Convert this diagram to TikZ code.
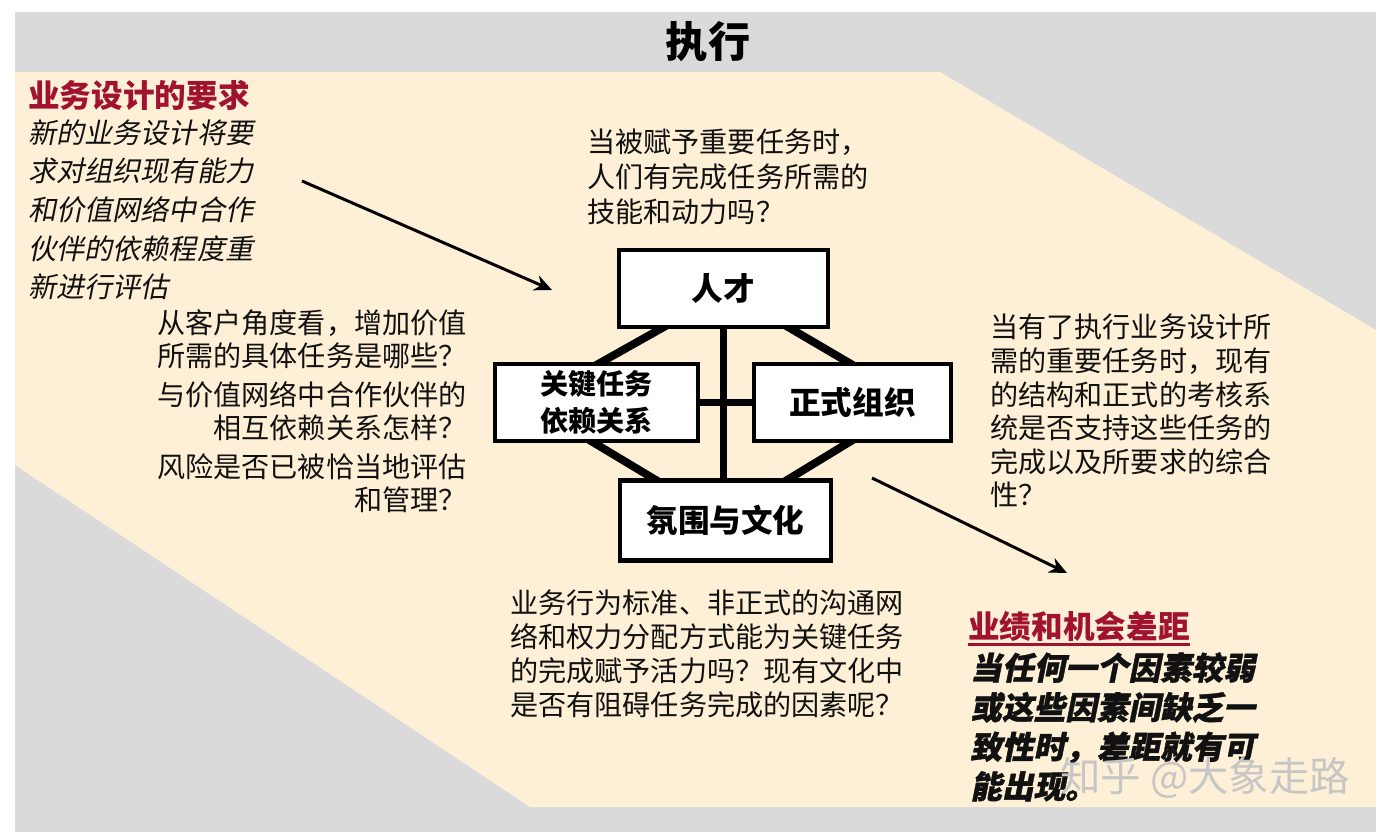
\documentclass[tikz,border=0pt]{standalone}
\usepackage{fontspec}
\setmainfont{Noto Sans CJK SC}
\newfontfamily\slantcjk{Noto Sans CJK SC}[FakeSlant=0.2, BoldFeatures={FakeBold=1.2}]
\usetikzlibrary{arrows.meta,backgrounds,calc}
\definecolor{execGray}{HTML}{DADADA}
\definecolor{execCream}{HTML}{FDF0D6}
\definecolor{execRed}{HTML}{A0122E}
\definecolor{execInk}{HTML}{111111}

\begin{document}
\begin{tikzpicture}[
  x=0.02cm,
  y=-0.02cm,
  >=Stealth,
  factor/.style={
    draw=black,
    line width=2.3pt,
    fill=white,
    inner sep=0pt,
    align=center,
    minimum height=1.55cm,
    font=\fontsize{18}{20}\selectfont\bfseries
  },
  link/.style={draw=black, line width=4.5pt},
  question/.style={
    inner sep=0pt,
    text=execInk,
    font=\fontsize{16}{19.4}\selectfont
  },
  redtitle/.style={
    inner sep=0pt,
    text=execRed,
    font=\fontsize{18}{20}\selectfont\bfseries
  },
  pointer/.style={-{Stealth[length=10pt,width=9pt]}, draw=black, line width=1.7pt}
]

\path[use as bounding box] (0,0) rectangle (1390,838);

\node[font=\fontsize{24}{24}\selectfont\bfseries] (title) at (708,42) {执行};

\node[factor, minimum width=4.18cm] (talent) at (723.5,288.5) {人才};
\node[factor, minimum width=4.06cm, font=\fontsize{16}{21}\selectfont\bfseries] (task) at (596.5,402.5)
  {关键任务\\依赖关系};
\node[factor, minimum width=3.94cm] (formal) at (852.5,402.5) {正式组织};
\node[factor, minimum width=4.22cm, minimum height=1.6cm] (culture) at (725.5,520.5) {氛围与文化};

\node[redtitle, anchor=west] (reqTitle) at (28,95) {业务设计的要求};
\node[question, anchor=north west, align=left, font=\slantcjk\fontsize{16}{22}\selectfont] (reqText) at (28,119)
  {新的业务设计将要\\求对组织现有能力\\和价值网络中合作\\伙伴的依赖程度重\\新进行评估};

\node[question, anchor=north west, align=left, font=\fontsize{16}{19.8}\selectfont] (talentQ) at (587,129)
  {当被赋予重要任务时，\\人们有完成任务所需的\\技能和动力吗？};
\node[question, anchor=north east, align=right, font=\fontsize{16}{18.8}\selectfont] (taskQ) at (467,309)
  {从客户角度看，增加价值\\所需的具体任务是哪些？\\[3.5pt]与价值网络中合作伙伴的\\相互依赖关系怎样？\\[3.5pt]风险是否已被恰当地评估\\和管理？};
\node[question, anchor=north west, align=left, font=\fontsize{16}{19.1}\selectfont] (formalQ) at (990,314)
  {当有了执行业务设计所\\需的重要任务时，现有\\的结构和正式的考核系\\统是否支持这些任务的\\完成以及所要求的综合\\性？};
\node[question, anchor=north west, align=left, font=\fontsize{16}{19.5}\selectfont] (cultureQ) at (510,589)
  {业务行为标准、非正式的沟通网\\络和权力分配方式能为关键任务\\的完成赋予活力吗？现有文化中\\是否有阻碍任务完成的因素呢？};

\node[redtitle, anchor=west] (gapTitle) at (968,626) {业绩和机会差距};
\draw[execRed, line width=1.8pt] ([yshift=-1.5pt]gapTitle.south west) -- ([yshift=-1.5pt]gapTitle.south east);
\node[question, anchor=north west, align=left, font=\slantcjk\bfseries\fontsize{18}{22.5}\selectfont] (gapText) at (970,652)
  {当任何一个因素较弱\\或这些因素间缺乏一\\致性时，差距就有可\\能出现。};

\node[anchor=west, inner sep=0pt, font=\fontsize{23}{23}\selectfont, text=gray!45] (wm) at (1060,778) {知乎 @大象走路};

\coordinate (reqTail) at (302,181);
\coordinate (reqHead) at (552,290);
\coordinate (gapTail) at (872,478);
\coordinate (gapHead) at (1067,573);
\draw[pointer] (reqTail) -- (reqHead);
\draw[pointer] (gapTail) -- (gapHead);

\begin{scope}[on background layer]
  \fill[execGray] (15,12) rectangle (1376,832);
  \fill[execCream] (15,72) -- (940,72) -- (1376,330) -- (1376,807) -- (530,807) -- (15,465) -- cycle;
  \draw[link] ([yshift=3pt]talent.south) -- ([yshift=-3pt]talent.south |- culture.north);
  \draw[link] ([xshift=-3pt]task.east) -- ([xshift=3pt]formal.west);
  \draw[link] ($(talent.south west)+(50,-4)$) -- ($(task.north west)+(102,4)$);
  \draw[link] ($(talent.south east)+(-45,-4)$) -- ($(formal.north west)+(102,4)$);
  \draw[link] ($(task.south west)+(95,-4)$) -- ($(culture.north west)+(42,4)$);
  \draw[link] ($(formal.south west)+(102,-4)$) -- ($(culture.north east)+(-50,4)$);
\end{scope}
\end{tikzpicture}
\end{document}
